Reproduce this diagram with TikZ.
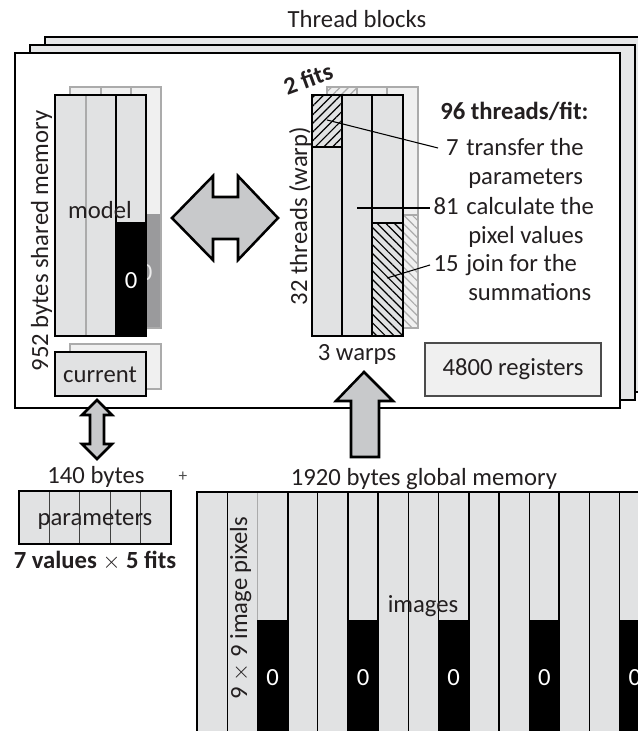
\documentclass[tikz,border=0pt]{standalone}
\usepackage{fontspec}
\setmainfont{Carlito}
\usetikzlibrary{patterns.meta}
\definecolor{colgray}{HTML}{E1E2E3}
\definecolor{backfill}{HTML}{F0F0F0}
\definecolor{backline}{HTML}{ABABAB}
\definecolor{framegray}{HTML}{E6E7E8}
\definecolor{arrowgray}{HTML}{C8C9CB}
\definecolor{darkback}{HTML}{9A9A9C}
\definecolor{txt}{HTML}{231F20}
\begin{document}
\begin{tikzpicture}[x=0.75pt,y=-0.75pt,
  lbl/.style={font=\fontsize{18.5pt}{22pt}\selectfont, inner sep=0pt, text=txt},
  blbl/.style={font=\fontsize{18.5pt}{22pt}\selectfont\bfseries, inner sep=0pt, text=txt},
  zlbl/.style={font=\fontsize{18.5pt}{22pt}\selectfont, inner sep=0pt, text=white},
  frame/.style={draw=black, line width=1.9pt},
  blockline/.style={draw=black, line width=1.5pt},
  thinline/.style={draw=black, line width=0.9pt},
  backblock/.style={draw=backline, fill=backfill, line width=1pt},
  bigarrow/.style={draw=black, fill=arrowgray, line width=1.9pt, line join=miter},
  hatchA/.style={pattern={Lines[angle=45,distance=4.6pt,line width=0.9pt]}, pattern color=black},
  hatchB/.style={pattern={Lines[angle=-45,distance=4.6pt,line width=0.9pt]}, pattern color=black},
  hatchAl/.style={pattern={Lines[angle=45,distance=4.6pt,line width=0.9pt]}, pattern color=backline},
  hatchBl/.style={pattern={Lines[angle=-45,distance=4.6pt,line width=0.9pt]}, pattern color=backline},
  leader/.style={draw=black, line width=0.8pt}]
\useasboundingbox (0,0) rectangle (638,731);
\clip (0,0) rectangle (638,731);

% thread block frames
\draw[frame, fill=framegray] (45,37) rectangle (650,392);
\draw[frame, fill=framegray] (30,45) rectangle (635,400);
\draw[frame, fill=white] (15,53) rectangle (620,408);
\node[lbl, anchor=base] (title) at (357,28) {Thread blocks};

% shared memory: back copy
\draw[backblock] (70,87) rectangle (161,328);
\fill[darkback] (131,214) rectangle (161,328);
\draw[backline, line width=0.8pt] (101,87) -- (101,328) (131,87) -- (131,328);
\draw[backblock, fill=none] (70,87) rectangle (161,328);
\node[zlbl, anchor=base, text=white!85!gray] (zeroback) at (146,280) {0};
% shared memory: front
\fill[colgray] (55,95) rectangle (146,336);
\fill[black] (116,222) rectangle (146,336);
\draw[backline, line width=0.8pt] (86,95) -- (86,336);
\draw[thinline] (116,95) -- (116,336);
\draw[blockline] (55,95) rectangle (146,336);
\node[lbl, anchor=base] (model) at (100,218) {model};
\node[zlbl, anchor=base] (zerofront) at (131,288) {0};
\node[lbl, anchor=base, rotate=90] (shmem) at (48,241) {952 bytes shared memory};

% current
\draw[backblock] (70,344) rectangle (161,389);
\draw[blockline, fill=colgray] (55,352) rectangle (146,396);
\node[lbl, anchor=base] (current) at (100,382) {current};

% horizontal double arrow
\draw[bigarrow] (172,218) -- (213,176) -- (213,197) -- (238,197) -- (238,176) -- (278,218)
  -- (238,260) -- (238,239) -- (213,239) -- (213,260) -- cycle;

% warps: back copy
\draw[backblock] (327,87) rectangle (418,328);
\path[hatchAl] (327,87) rectangle (357,139);
\path[hatchBl] (387,215) rectangle (418,328);
\draw[backline, line width=0.8pt] (357,87) -- (357,328) (387,87) -- (387,328)
  (327,139) -- (357,139) (387,215) -- (418,215);
\draw[backblock, fill=none] (327,87) rectangle (418,328);
% warps: front
\fill[colgray] (312,95) rectangle (403,336);
\path[hatchA] (312,95) rectangle (342,147);
\path[hatchB] (372,223) rectangle (403,336);
\draw[blockline] (342,95) -- (342,336) (372,95) -- (372,336)
  (312,147) -- (342,147) (372,223) -- (403,223);
\draw[blockline] (312,95) rectangle (403,336);
\node[lbl, anchor=base, rotate=90] (threads) at (307,216) {32 threads (warp)};
\node[blbl, rotate=20] (twofits) at (308,79) {2 fits};
\node[lbl, anchor=base] (warps) at (357,360) {3 warps};

% thread roles
\node[blbl, anchor=base west] (perfit) at (440,120) {96 threads/fit:};
\node[lbl, anchor=base east] (n7) at (459,156) {7};
\node[lbl, anchor=base west] (t7) at (466,156) {transfer the};
\node[lbl, anchor=base west] (t7b) at (468,185) {parameters};
\node[lbl, anchor=base east] (n81) at (459,214) {81};
\node[lbl, anchor=base west] (t81) at (466,214) {calculate the};
\node[lbl, anchor=base west] (t81b) at (468,243) {pixel values};
\node[lbl, anchor=base east] (n15) at (459,271) {15};
\node[lbl, anchor=base west] (t15) at (466,271) {join for the};
\node[lbl, anchor=base west] (t15b) at (468,300) {summations};
\coordinate (p7) at (327,120);
\coordinate (p81) at (357,208);
\coordinate (p15) at (387,278);
\coordinate (q7) at (438,148);
\coordinate (q81) at (430,208);
\coordinate (q15) at (430,265);
\draw[leader] (p7) -- (q7);
\draw[leader] (p81) -- (q81);
\draw[leader] (p15) -- (q15);

% registers
\draw[draw=black!70, fill=backfill, line width=0.8pt] (425,343) rectangle (601,396);
\node[lbl, anchor=base] (regs) at (513,375) {4800 registers};

% small vertical double arrow
\draw[bigarrow] (97,400) -- (112,415) -- (104,415) -- (104,444) -- (112,444) -- (97,459)
  -- (82,444) -- (90,444) -- (90,415) -- (82,415) -- cycle;
% big up arrow
\draw[bigarrow] (364,372) -- (393,401) -- (379,401) -- (379,457) -- (351,457) -- (351,401)
  -- (336,401) -- cycle;

% parameters
\node[lbl, anchor=base] (bytes140) at (96,483) {140 bytes};
\node[font=\fontsize{13pt}{15pt}\selectfont, inner sep=0pt, text=black!70] (plus) at (183,477) {+};
\fill[colgray] (19,491) rectangle (171,544);
\foreach \i in {1,...,4} \draw[thinline, draw=black!75] ({19+30.4*\i},491) -- ({19+30.4*\i},544);
\draw[blockline] (19,491) rectangle (171,544);
\node[lbl, anchor=base] (params) at (95,525) {parameters};
\node[blbl, anchor=base] (values) at (95,568) {7 values $\times$ 5 fits};

% global memory
\node[lbl, anchor=base] (global) at (424,485) {1920 bytes global memory};
\fill[colgray] (197,492) rectangle (700,740);
\foreach \k in {0,...,4} \fill[black] ({197+30.2*(2+3*\k)},620) rectangle ({197+30.2*(3+3*\k)},740);
\foreach \i in {1,2,4,5,7,8,10,11,13,14,16} \draw[thinline] ({197+30.2*\i},492) -- ({197+30.2*\i},740);
\draw[backline, line width=0.8pt] ({197+30.2*2},492) -- ({197+30.2*2},620);
\foreach \i in {3,6,9,12,15} \draw[blockline] ({197+30.2*\i},492) -- ({197+30.2*\i},740);
\draw[blockline] (197,740) -- (197,492) -- (700,492);
\node[lbl, anchor=base, rotate=90] (pixels) at (247,608) {9 $\times$ 9 image pixels};
\node[lbl, anchor=base] (images) at (423,612) {images};
\foreach \k in {0,...,4} \node[zlbl, anchor=base] (z\k) at ({197+30.2*(2.5+3*\k)},685) {0};
\end{tikzpicture}
\end{document}
